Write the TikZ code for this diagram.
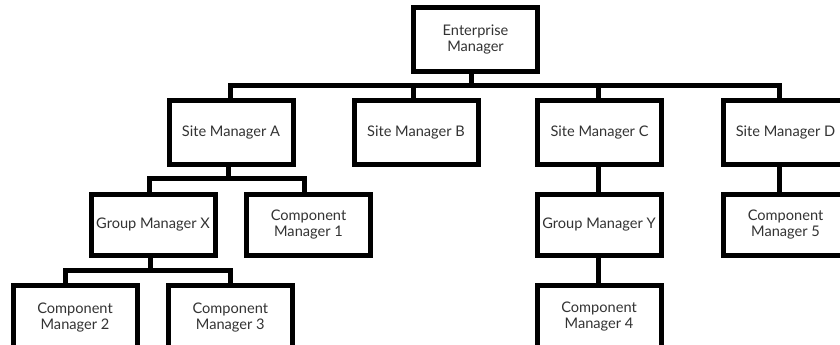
\documentclass[tikz,border=0pt]{standalone}
\usepackage{fontspec}
\setmainfont{Lato}
\begin{document}
\begin{tikzpicture}[x=1pt,y=1pt,
  box/.style={draw=black,line width=5pt,fill=white,minimum width=124pt,minimum height=64pt,
    inner sep=0pt,outer sep=0pt,align=center,font=\fontsize{14.6}{16}\selectfont,text=black!80},
  lowbox/.style={box,minimum height=61pt},
  link/.style={line width=5pt,line join=miter,draw=black}]
\useasboundingbox (0,0) rectangle (840,-345);
\clip (0,0) rectangle (840,-345);
\node[box] (ent) at (475.5,-39.5) {Enterprise\\Manager};
\node[box] (sa) at (231,-132.5) {Site Manager A};
\node[box] (sb) at (416,-132.5) {Site Manager B};
\node[box] (sc) at (599.5,-132.5) {Site Manager C};
\node[box] (sd) at (785.5,-132.5) {Site Manager D};
\node[lowbox] (gx) at (153,-224.5) {Group Manager X};
\node[lowbox] (c1) at (308.5,-224.5) {Component\\Manager 1};
\node[lowbox] (gy) at (599,-224.5) {Group Manager Y};
\node[lowbox] (c5) at (785.5,-224.5) {Component\\Manager 5};
\node[box] (c2) at (75,-317.2) {Component\\Manager 2};
\node[box] (c3) at (230.3,-317.2) {Component\\Manager 3};
\node[box] (c4) at (599,-317) {Component\\Manager 4};
% enterprise level
\draw[link] ([xshift=-4.5pt]ent.south) -- ++(0,-14) -| ([xshift=-1pt]sa.north);
\draw[link] ([xshift=-4.5pt]ent.south) -- ++(0,-14) -| ([xshift=-3pt]sb.north);
\draw[link] ([xshift=-4.5pt]ent.south) -- ++(0,-14) -| ([xshift=-1.5pt]sc.north);
\draw[link] ([xshift=-4.5pt]ent.south) -- ++(0,-14) -| ([xshift=-6.5pt]sd.north);
% site A level
\draw[link] ([xshift=-3pt]sa.south) -- ++(0,-13.8) -| ([xshift=-4pt]gx.north);
\draw[link] ([xshift=-3pt]sa.south) -- ++(0,-13.8) -| ([xshift=-4.5pt]c1.north);
% group X level
\draw[link] ([xshift=-3pt]gx.south) -- ++(0,-15.7) -| ([xshift=-10pt]c2.north);
\draw[link] ([xshift=-3pt]gx.south) -- ++(0,-15.7) -| ([xshift=-0.3pt]c3.north);
% straight links
\draw[link] ([xshift=-1.5pt]sc.south) -- ([xshift=-1.5pt]sc.south |- gy.north);
\draw[link] ([xshift=-1pt]gy.south) -- ([xshift=-1pt]gy.south |- c4.north);
\draw[link] ([xshift=-6.5pt]sd.south) -- ([xshift=-6.5pt]sd.south |- c5.north);
\end{tikzpicture}
\end{document}
